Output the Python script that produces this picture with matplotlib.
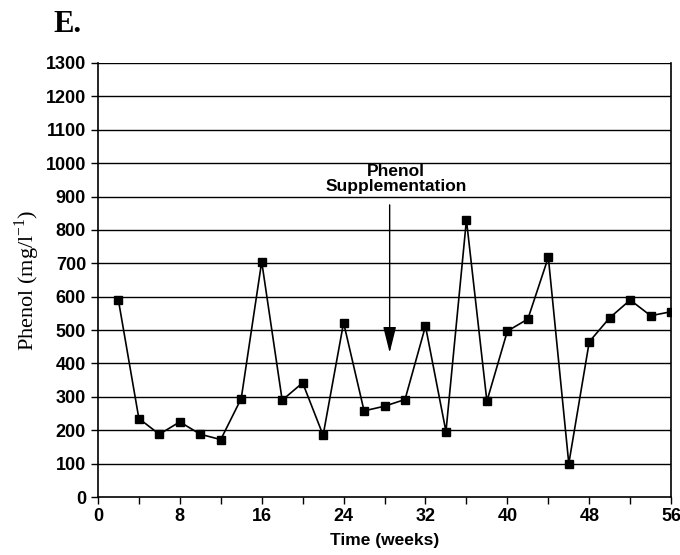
import matplotlib
matplotlib.use("Agg")
import matplotlib.pyplot as plt
import numpy as np

# phenol concentration, sampled every 2 weeks
weeks = [2, 4, 6, 8, 10, 12, 14, 16, 18, 20, 22, 24, 26, 28,
         30, 32, 34, 36, 38, 40, 42, 44, 46, 48, 50, 52, 54, 56]
phenol = [590, 235, 188, 225, 188, 172, 295, 705, 290, 342, 185, 522, 258, 272,
          292, 512, 196, 830, 287, 497, 533, 718, 100, 465, 537, 590, 543, 555]

x_labels = [0, 8, 16, 24, 32, 40, 48, 56]
y_ticks = list(range(0, 1301, 100))

arrow_x = 28.5
arrow_from = 875
arrow_to = 432

plt.rcParams['font.family'] = ['Liberation Sans', 'DejaVu Sans']
plt.rcParams['mathtext.fontset'] = 'custom'
plt.rcParams['mathtext.rm'] = 'Liberation Serif'

fig = plt.figure(figsize=(6.8, 5.55), dpi=100)
ax = fig.add_axes([0.144, 0.1045, 0.843, 0.782])

for y in y_ticks[1:]:
    ax.axhline(y, color='black', lw=1.0, zorder=1)

ax.plot(weeks, phenol, color='black', lw=1.2, marker='s', markersize=5.5,
        markerfacecolor='black', zorder=3)

ax.annotate('', xy=(arrow_x, arrow_to), xytext=(arrow_x, arrow_from),
            arrowprops=dict(arrowstyle='-|>,head_length=1.6,head_width=0.4',
                            color='black', lw=1.0, shrinkA=0, shrinkB=0),
            zorder=4)
ax.text(arrow_x + 0.6, 953, 'Phenol\nSupplementation', ha='center', va='center',
        fontsize=12.5, fontweight='bold', linespacing=1.05)

ax.set_xlim(0, 56)
ax.set_ylim(0, 1300)
ax.set_xticks(np.arange(0, 57, 4))
ax.set_xticklabels([str(t) if t in x_labels else '' for t in range(0, 57, 4)])
ax.set_yticks(y_ticks)
ax.tick_params(axis='both', direction='out', length=5, width=1, labelsize=13,
               color='black')
ax.tick_params(axis='x', pad=3)
for lab in ax.get_xticklabels() + ax.get_yticklabels():
    lab.set_fontweight('bold')

for side in ['left', 'right', 'bottom']:
    ax.spines[side].set_linewidth(1.2)
ax.spines['top'].set_visible(False)

ax.set_xlabel('Time (weeks)', fontsize=12.5, fontweight='bold', labelpad=6)
ax.set_ylabel('Phenol (mg/l$^{-1}$)', fontsize=16, family='Liberation Serif',
              labelpad=3)

fig.text(0.078, 0.955, 'E.', fontsize=22, fontweight='bold',
         family='Liberation Serif', va='center', ha='left')

fig.savefig('out.png', dpi=100)
